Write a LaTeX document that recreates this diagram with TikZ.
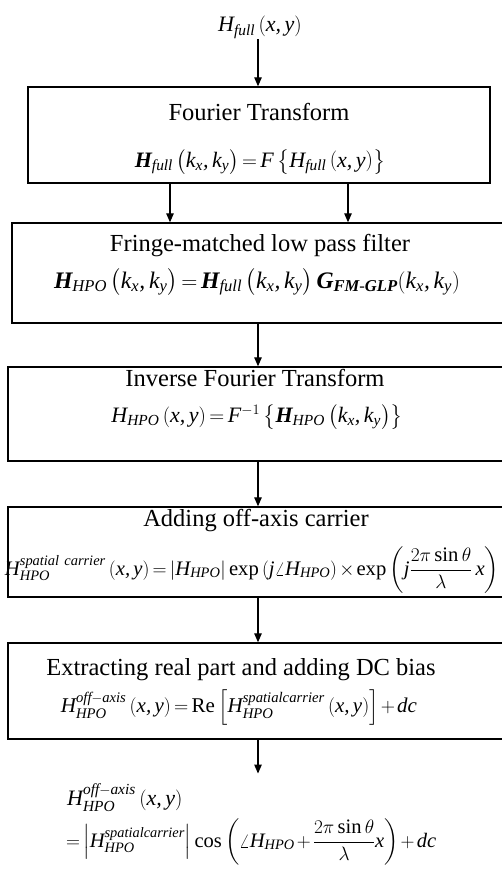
\documentclass[tikz,border=0pt]{standalone}
\usepackage{amsmath}
\usepackage{graphicx}
\usepackage{fontspec}
\setmainfont{Liberation Serif}[NFSSFamily=libser]
% Times-like letters in math, Greek kept from Computer Modern
\DeclareSymbolFont{cmletters}{OML}{cmm}{m}{it}
\SetSymbolFont{cmletters}{bold}{OML}{cmm}{b}{it}
\DeclareMathSymbol{\pi}{\mathord}{cmletters}{"19}
\DeclareMathSymbol{\theta}{\mathord}{cmletters}{"12}
\DeclareMathSymbol{\lambda}{\mathord}{cmletters}{"15}
\DeclareSymbolFont{letters}{TU}{libser}{m}{it}
\SetSymbolFont{letters}{bold}{TU}{libser}{b}{it}
\DeclareMathSymbol{,}{\mathpunct}{letters}{"2C}
\thickmuskip=3mu
\medmuskip=2mu
\usepackage{tikz}
\usetikzlibrary{arrows.meta, positioning}

\tikzset{
  stagebox/.style={draw, line width=1.4pt, inner sep=0pt},
  stagetitle/.style={anchor=base, inner sep=0pt, font=\fontsize{24.5}{29}\selectfont},
  stageeqn/.style={anchor=base, inner sep=0pt, font=\fontsize{22}{26}\selectfont},
  flow/.style={line width=1.2pt, -{Triangle[length=9pt, width=7.5pt]}},
}

\begin{document}
\begin{tikzpicture}[x=1pt, y=-1pt]
  \useasboundingbox (0,0) rectangle (501,872);
  \coordinate (spine) at (258,0);
  \coordinate (lft) at (170,0);
  \coordinate (rgt) at (348,0);

  % input field
  \node[stageeqn] (src) at (260,32) {$H_{full}\left(x,y\right)$};

  % Fourier transform
  \node[stagebox, minimum width=462pt, minimum height=96pt] (ft) at (259,135) {};
  \node[stagetitle] (ftT) at (259,121) {Fourier Transform};
  \node[stageeqn] (ftE) at (260,167)
    {$\boldsymbol{H}_{full}\left(k_x,k_y\right)= F\left\{H_{full}\left(x,y\right)\right\}$};

  % fringe-matched filter
  \node[stagebox, minimum width=492pt, minimum height=100pt] (lpf) at (258,273) {};
  \node[stagetitle] (lpfT) at (260,251) {Fringe-matched low pass filter};
  \node[stageeqn] (lpfE) at (257,288)
    {\resizebox{406pt}{!}{$\boldsymbol{H}_{HPO}\left(k_x,k_y\right)= \boldsymbol{H}_{full}\left(k_x,k_y\right)\boldsymbol{G}_{\boldsymbol{FM\text{-}GLP}}(k_x,k_y)$}};

  % inverse transform
  \node[stagebox, minimum width=496pt, minimum height=94pt] (ift) at (256,414) {};
  \node[stagetitle] (iftT) at (255,386) {Inverse Fourier Transform};
  \node[stageeqn] (iftE) at (257,422)
    {$H_{HPO}\left(x,y\right)= F^{-1}\left\{\boldsymbol{H}_{HPO}\left(k_x,k_y\right)\right\}$};

  % carrier
  \node[stagebox, minimum width=496pt, minimum height=90pt] (car) at (256,552) {};
  \node[stagetitle] (carT) at (256,526) {Adding off-axis carrier};
  \node[stageeqn] (carE) at (252,575)
    {\resizebox{494pt}{!}{$H_{HPO}^{spatial\ carrier}\left(x,y\right)=\left|H_{HPO}\right|\exp\left(j\angle H_{HPO}\right)\times\exp\left(j\dfrac{2\pi\sin\theta}{\lambda}\,x\right)$}};

  % real part
  \node[stagebox, minimum width=496pt, minimum height=96pt] (re) at (256,691) {};
  \node[stagetitle] (reT) at (241,675) {Extracting real part and adding DC bias};
  \node[stageeqn] (reE) at (239,712)
    {\resizebox{356pt}{!}{$H_{HPO}^{off{-}axis}\left(x,y\right)=\mathrm{Re}\left[H_{HPO}^{spatialcarrier}\left(x,y\right)\right]+dc$}};

  % output hologram
  \node[stageeqn, anchor=base west] (out) at (67,805) {$H_{HPO}^{off{-}axis}\left(x,y\right)$};
  \node[stageeqn, anchor=base west] (outE) at (66,847)
    {\resizebox{370pt}{!}{$=\left|H_{HPO}^{spatialcarrier}\right|\cos\left(\angle H_{HPO}+\dfrac{2\pi\sin\theta}{\lambda}x\right)+dc$}};

  % connectors
  \draw[flow] (src.south -| spine) -- (ft.north -| spine);
  \draw[flow] (ft.south -| lft) -- (lpf.north -| lft);
  \draw[flow] (ft.south -| rgt) -- (lpf.north -| rgt);
  \draw[flow] (lpf.south -| spine) -- (ift.north -| spine);
  \draw[flow] (ift.south -| spine) -- (car.north -| spine);
  \draw[flow] (car.south -| spine) -- (re.north -| spine);
  \draw[flow] (re.south -| spine) -- ([yshift=10pt]out.north -| spine);
\end{tikzpicture}
\end{document}
